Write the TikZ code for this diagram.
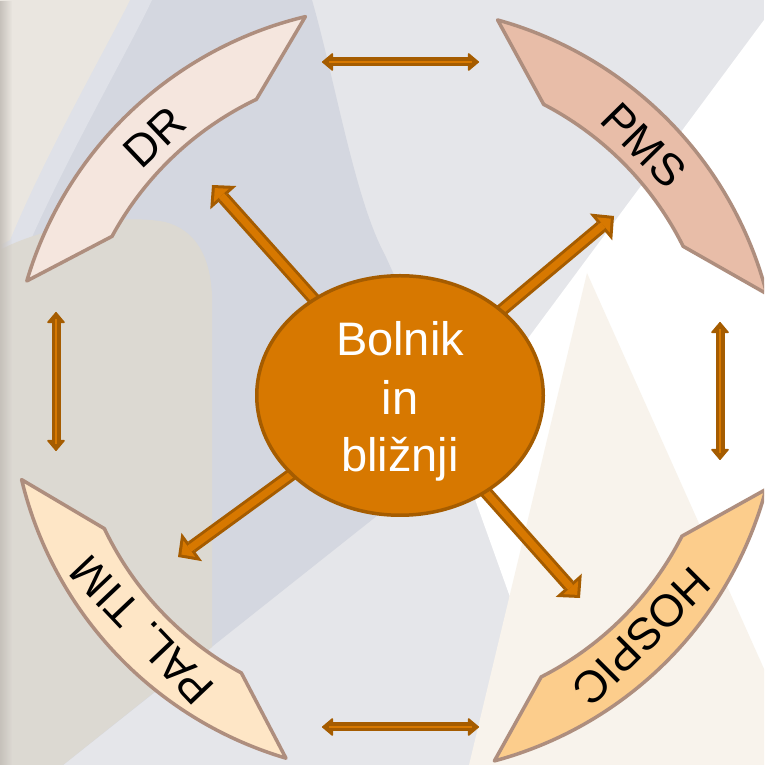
\documentclass[tikz,border=0pt]{standalone}
\usepackage{fontspec}
\setmainfont{Liberation Sans}
\usetikzlibrary{arrows.meta,calc,shapes.geometric,fadings}

\definecolor{bgblue}{HTML}{D4D7E0}
\definecolor{bglight}{HTML}{E5E6EA}
\definecolor{bgbeige}{HTML}{EAE6E0}
\definecolor{bgband}{HTML}{DFE1E8}
\definecolor{bgblob}{HTML}{DCD9D2}
\definecolor{bgtri}{HTML}{F8F3EC}
\definecolor{stripdark}{HTML}{C6C1BB}
\definecolor{arrdark}{HTML}{A55C00}
\definecolor{arrorange}{HTML}{D77800}
\definecolor{shapeline}{HTML}{AE8E7E}
\definecolor{fillDR}{HTML}{F5E6DE}
\definecolor{fillPMS}{HTML}{E8BDA8}
\definecolor{fillPAL}{HTML}{FEE6C6}
\definecolor{fillHOS}{HTML}{FCCD8C}

% #1 mid angle, #2 fill, #3 text, #4 name, #5 text rotation
\newcommand\arcband[5]{%
  \draw[bandline, fill=#2] ($(C)+(#1+30:384)$) arc[start angle=#1+30, end angle=#1-30, radius=384]
     -- ($(C)+(#1-18:322)$) arc[start angle=#1-18, end angle=#1+18, radius=322] -- cycle;
  \node[lbl, rotate=#5] (#4) at ($(C)+(#1:349)$) {#3};
}

\begin{document}
\begin{tikzpicture}[x=1pt,y=1pt,
  radA/.style={draw=arrdark, line width=13pt, -{Triangle[width=35pt,length=17pt,line width=0pt]}},
  radB/.style={draw=arrorange, line width=7pt, shorten >=4.2pt, -{Triangle[width=20pt,length=9.8pt,line width=0pt]}},
  dblA/.style={draw=arrdark, line width=9pt, {Triangle[width=19pt,length=11.5pt,line width=1.5pt,round]}-{Triangle[width=19pt,length=11.5pt,line width=1.5pt,round]}},
  dblB/.style={draw=arrorange, line width=2.5pt, shorten >=7pt, shorten <=7pt},
  bandline/.style={draw=shapeline, line width=3.5pt, line join=round},
  lbl/.style={font=\fontsize{45}{54}\selectfont, text=black, inner sep=0pt},
  ctrtxt/.style={font=\fontsize{47}{58}\selectfont, text=white, inner sep=0pt, anchor=base}
]
\useasboundingbox (0,0) rectangle (764,765);
\clip (0,0) rectangle (764,765);

% background
\fill[bglight] (0,0) rectangle (764,765);
\fill[bgblue] (0,765) -- (312,765) .. controls (335,685) and (355,565) .. (385,510) -- (470,323) -- (63,0) -- (0,0) -- cycle;
\fill[bgband] (0,765) -- (152,765) .. controls (127,712) and (65,605) .. (25,512) -- (0,505) -- cycle;
\fill[bgbeige] (0,765) -- (130,765) .. controls (105,715) and (45,610) .. (10,525) -- (0,520) -- cycle;
\fill[bgblob] (0,515) .. controls (40,537) and (120,552) .. (165,543) .. controls (195,535) and (210,510) .. (212,470) -- (212,118) -- (172,87) -- (63,0) -- (0,0) -- cycle;
\fill[white] (764,745) -- (529,428) -- (455,328) -- (467,288) -- (510,168) -- (568,0) -- (764,0) -- cycle;
\fill[bgtri] (587,492) -- (469,0) -- (807,0) -- cycle;
\fill[stripdark, path fading=east] (0,0) rectangle (12,765);

% coordinates
\coordinate (C) at (395,375);
\coordinate (c0) at (400,369.5);
\coordinate (tNW) at (212,580);
\coordinate (tNE) at (614,549);
\coordinate (tSW) at (178,208);
\coordinate (tSE) at (580,167);
\coordinate (dT1) at (322,703);
\coordinate (dT2) at (479,703);
\coordinate (dL1) at (56,453);
\coordinate (dL2) at (56,314);
\coordinate (dR1) at (720,443);
\coordinate (dR2) at (720,305);
\coordinate (dB1) at (322,38);
\coordinate (dB2) at (479,38);

% curved bands
\arcband{133.5}{fillDR}{DR}{sDR}{43.5}
\arcband{44.5}{fillPMS}{PMS}{sPMS}{-45.5}
\arcband{223.5}{fillPAL}{PAL. TIM}{sPAL}{133.5}
\arcband{315}{fillHOS}{HOSPIC}{sHOS}{225}

% double arrows between bands
\foreach \a/\b in {dT1/dT2,dL1/dL2,dR1/dR2,dB1/dB2}{
  \draw[dblA] (\a) -- (\b);
  \draw[dblB] (\a) -- (\b);
}

% radial arrows
\foreach \t in {tNW,tNE,tSW,tSE}{
  \draw[radA] (c0) -- (\t);
  \draw[radB] (c0) -- (\t);
}

% centre
\node[ellipse, draw=arrdark, line width=3.5pt, fill=arrorange, minimum width=286.5pt, minimum height=239.5pt, inner sep=0pt] (ctr) at (c0) {};
\node[ctrtxt] (t1) at (400,409) {Bolnik};
\node[ctrtxt] (t2) at (400,350) {in};
\node[ctrtxt] (t3) at (400,293) {bližnji};
\end{tikzpicture}
\end{document}
